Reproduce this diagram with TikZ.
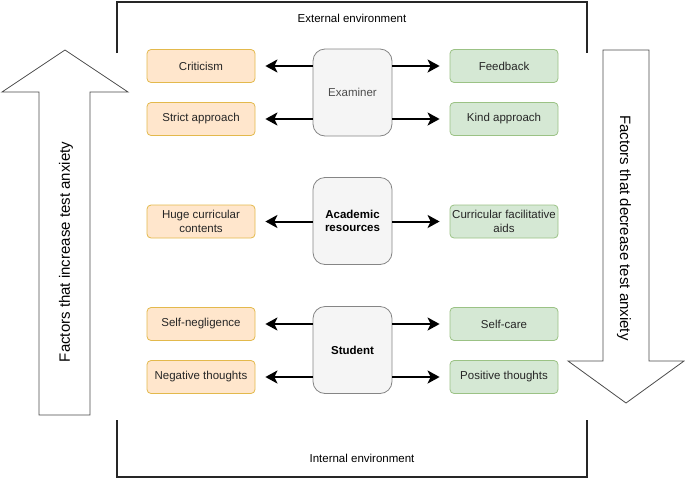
\documentclass[tikz,border=0pt]{standalone}
\usepackage{fontspec}
\setmainfont{Liberation Sans}
\usepackage{tikz}
\usetikzlibrary{arrows.meta}
\usetikzlibrary{calc}

\definecolor{badfill}{HTML}{FFE6CC}
\definecolor{baddraw}{HTML}{D79B00}
\definecolor{goodfill}{HTML}{D5E8D4}
\definecolor{gooddraw}{HTML}{82B366}
\definecolor{midfill}{HTML}{F5F5F5}
\definecolor{middraw}{HTML}{666666}

\begin{document}
\begin{tikzpicture}[x=1pt, y=-1pt,
    factor/.style={draw, rounded corners=4pt, line width=0.8pt,
      minimum width=108pt, minimum height=33pt, inner sep=0pt, align=center,
      font=\fontsize{11.5}{12.5}\selectfont, text=black!85},
    bad/.style={factor, fill=badfill, draw=baddraw!70},
    good/.style={factor, fill=goodfill, draw=gooddraw!80},
    agent/.style={draw=middraw!80, fill=midfill, rounded corners=12pt,
      line width=0.8pt, minimum width=79pt, minimum height=87pt,
      inner sep=0pt, align=center, font=\fontsize{11.5}{12.5}\selectfont},
    conn/.style={line width=2pt, -{Stealth[length=12pt, width=13pt, inset=3pt]},
      shorten >=10pt},
    frame/.style={line width=1.4pt, black!85},
    bigarrow/.style={draw=black!70, line width=0.8pt, fill=white}]

  % page
  \useasboundingbox (0,0) rectangle (685,480);

  % environment frame
  \draw[frame] (117,53) -- (117,2) -- (587,2) -- (587,53);
  \draw[frame] (117,420) -- (117,477) -- (587,477) -- (587,420);
  \node[font=\fontsize{11.5}{12.5}\selectfont] (ext) at (352,18) {External environment};
  \node[font=\fontsize{11.5}{12.5}\selectfont] (int) at (362,458) {Internal environment};

  % big arrows
  \draw[bigarrow] (65,50) -- (128,92) -- (90,92) -- (90,415) -- (39,415)
    -- (39,92) -- (2,92) -- cycle;
  \draw[bigarrow] (603,50) -- (649,50) -- (649,361) -- (684,361) -- (626,403)
    -- (568,361) -- (603,361) -- cycle;
  \node[rotate=90, font=\fontsize{15}{16}\selectfont] (inc) at (66,252)
    {Factors that increase test anxiety};
  \node[rotate=-90, font=\fontsize{15}{16}\selectfont] (dec) at (624,228)
    {Factors that decrease test anxiety};

  % examiner
  \node[agent, text=black!70] (exam) at (352.5,92.5) {Examiner};
  \node[bad] (crit) at (201,66) {Criticism};
  \node[bad] (strict) at (201,119) {Strict approach};
  \node[good] (feed) at (504,66) {Feedback};
  \node[good] (kind) at (504,119) {Kind approach};

  % academic resources
  \node[agent, font=\fontsize{11.5}{13.5}\selectfont\bfseries] (acad) at (352.5,221)
    {Academic\\resources};
  \node[bad, font=\fontsize{11.5}{13.5}\selectfont] (huge) at (201,221.5)
    {Huge curricular\\contents};
  \node[good, font=\fontsize{11.5}{13.5}\selectfont] (aids) at (504,221.5)
    {Curricular facilitative\\aids};

  % student
  \node[agent, font=\fontsize{11.5}{12.5}\selectfont\bfseries] (stud) at (352.5,350)
    {Student};
  \node[bad] (neglig) at (201,324) {Self-negligence};
  \node[bad] (negth) at (201,377) {Negative thoughts};
  \node[good] (care) at (504,324) {Self-care};
  \node[good] (posth) at (504,377) {Positive thoughts};

  % connectors
  \foreach \a/\b in {exam/crit, exam/strict, acad/huge, stud/neglig, stud/negth}
    \draw[conn] (\a.west |- \b.east) -- (\b.east);
  \foreach \a/\b in {exam/feed, exam/kind, acad/aids, stud/care, stud/posth}
    \draw[conn] (\a.east |- \b.west) -- (\b.west);
\end{tikzpicture}
\end{document}
